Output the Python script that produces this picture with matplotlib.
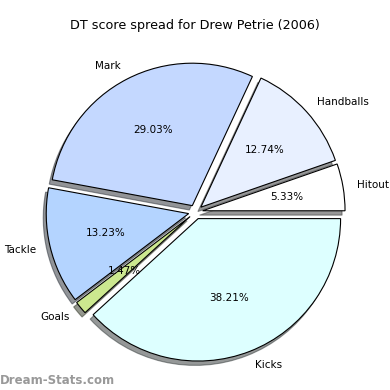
import matplotlib.pyplot as plt

labels = ["Hitout", "Handballs", "Mark", "Tackle", "Goals", "Kicks"]
values = [5.33, 12.74, 29.03, 13.23, 1.47, 38.21]
colors = ["#ffffff", "#e8f0ff", "#c4d8ff", "#b4d4ff", "#cce88f", "#ddffff"]
explode = [0.05] * len(values)

fig = plt.figure(figsize=(3.9, 3.9), dpi=100)
ax = fig.add_axes([0.045, 0.0, 0.913, 0.913])
ax.pie(values, labels=labels, colors=colors, explode=explode,
       autopct="%.2f%%", startangle=0,
       shadow={"ox": -0.015, "oy": -0.022, "shade": 0.8},
       wedgeprops={"edgecolor": "black", "linewidth": 0.8},
       textprops={"fontsize": 7.5})
ax.set_aspect("equal")
ax.set_xlim(-1.25, 1.25)
ax.set_ylim(-1.25, 1.25)

fig.text(0.5, 0.935, "DT score spread for Drew Petrie (2006)",
         ha="center", va="center", fontsize=9.2)
fig.text(0.0, 0.025, "Dream-Stats.com", ha="left", va="center",
         fontsize=8.5, color="#999999", fontweight="bold")

fig.savefig("out.png", dpi=100)
